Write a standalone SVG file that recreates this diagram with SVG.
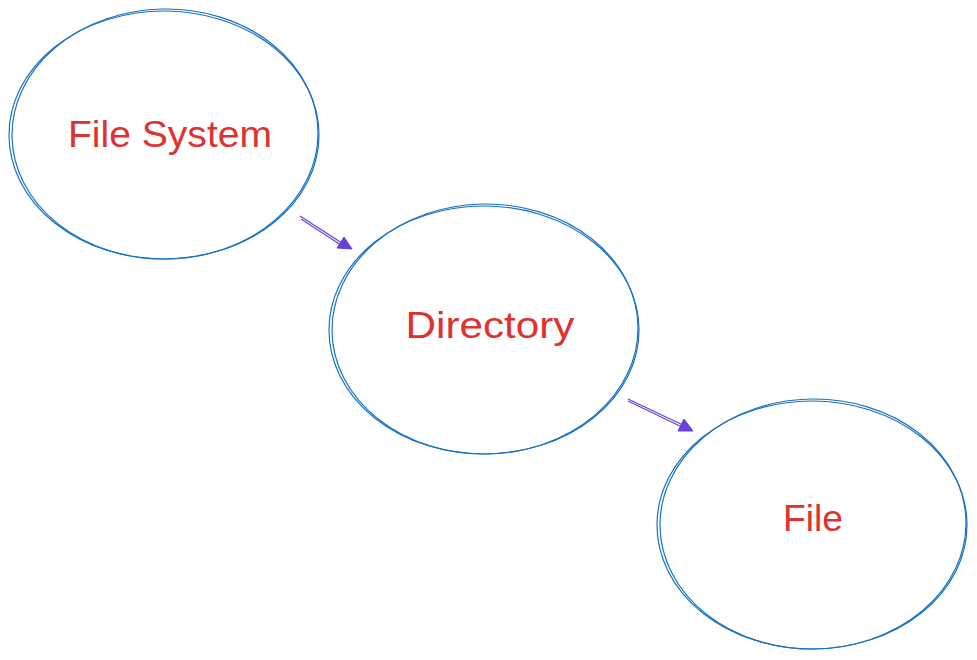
<svg xmlns="http://www.w3.org/2000/svg" width="977" height="660" viewBox="0 0 977 660">
<style>
.node ellipse{fill:none;stroke:#1971c2;stroke-width:1.2}
.lbl{font-family:"Liberation Sans",Arial,sans-serif;font-size:37px;fill:#e03131;text-anchor:middle}
.conn line{stroke:#6741d9;stroke-width:1.2}
.conn path{fill:#6741d9;stroke:#6741d9;stroke-width:1;stroke-linejoin:round}
</style>
<rect width="977" height="660" fill="#ffffff"/>
<g id="node-filesystem" class="node">
<ellipse cx="164" cy="135" rx="155" ry="124"/>
<ellipse cx="165" cy="134" rx="153" ry="125" transform="rotate(-1 165 134)"/>
<text class="lbl" x="170" y="147" textLength="204" lengthAdjust="spacingAndGlyphs">File System</text>
</g>
<g id="node-directory" class="node">
<ellipse cx="484" cy="330" rx="155" ry="124"/>
<ellipse cx="485" cy="329" rx="153" ry="125" transform="rotate(-1 485 329)"/>
<text class="lbl" x="490" y="338" textLength="169" lengthAdjust="spacingAndGlyphs">Directory</text>
</g>
<g id="node-file" class="node">
<ellipse cx="812" cy="525" rx="155" ry="124"/>
<ellipse cx="813" cy="524" rx="153" ry="125" transform="rotate(-1 813 524)"/>
<text class="lbl" x="813" y="531" textLength="60" lengthAdjust="spacingAndGlyphs">File</text>
</g>
<g id="connectors" class="conn">
<line x1="300" y1="216" x2="345" y2="245"/>
<line x1="301" y1="219" x2="344" y2="247"/>
<path d="M352 249 L337 248 L344 237 Z"/>
<line x1="628" y1="399" x2="685" y2="426"/>
<line x1="628" y1="401" x2="684" y2="428"/>
<path d="M693 431 L678 431 L684 419 Z"/>
</g>
</svg>
